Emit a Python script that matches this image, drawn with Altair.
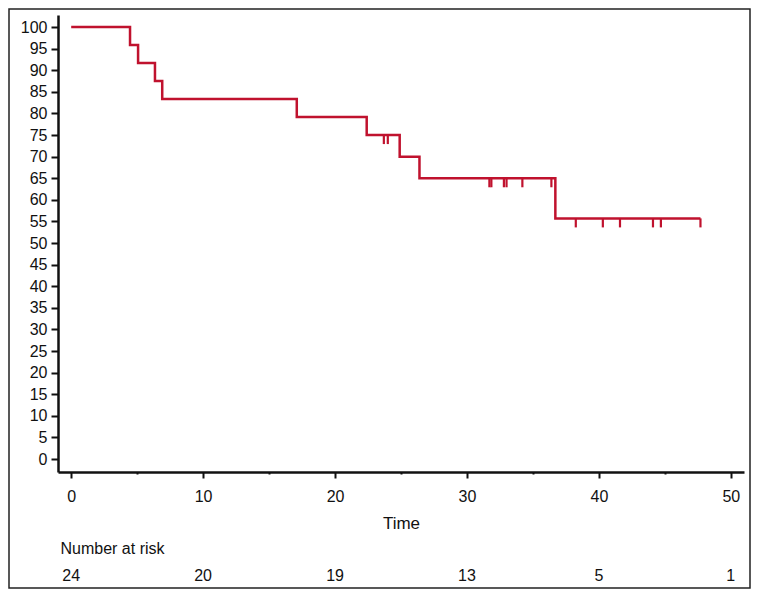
import altair as alt
import pandas as pd

# Kaplan-Meier step curve (time, survival %)
step_times = [0, 4.46, 5.07, 6.35, 6.9, 17.1, 22.4, 24.9, 26.4, 36.7, 47.7]
step_surv = [100, 95.83, 91.67, 87.5, 83.33, 79.17, 75.0, 70.0, 65.0, 55.71, 55.71]

# Censoring marks
censor_times = [23.7, 24.0, 31.7, 31.85, 32.8, 33.0, 34.2, 36.4,
                38.25, 40.3, 41.6, 44.1, 44.7, 47.7]
censor_surv = [75.0, 75.0, 65.0, 65.0, 65.0, 65.0, 65.0, 65.0,
               55.71, 55.71, 55.71, 55.71, 55.71, 55.71]

# Number at risk table
risk_times = [0, 10, 20, 30, 40, 50]
risk_counts = [24, 20, 19, 13, 5, 1]

x_ticks = list(range(0, 51, 5))
y_ticks = list(range(0, 101, 5))

RED = "#C0122E"
FONT = "Liberation Sans, Arial, sans-serif"
W, H = 686, 457
PAD = {"left": 50, "top": 7, "right": 7, "bottom": 117}

curve = pd.DataFrame({"t": step_times, "s": step_surv})
cens = pd.DataFrame({"t": censor_times, "s": censor_surv})
risk = pd.DataFrame({"t": risk_times, "n": [str(v) for v in risk_counts]})

xscale = alt.Scale(domain=[-1, 51], nice=False, zero=False)
yscale = alt.Scale(domain=[-3, 102.8], nice=False, zero=False)

xaxis = alt.Axis(
    values=x_ticks,
    labelExpr="datum.value % 10 === 0 ? datum.label : ''",
    tickSize={"condition": {"test": "datum.value % 10 === 0", "value": 6}, "value": 2},
    tickWidth=2, tickColor="#111", domainColor="#111", domainWidth=2.5,
    labelFont=FONT, labelFontSize=16, labelColor="#111", labelPadding=10,
    labelOverlap=False, grid=False, title="Time", titleFont=FONT, titleFontSize=17,
    titleFontWeight="normal", titleColor="#111", titlePadding=11,
)
yaxis = alt.Axis(
    values=y_ticks, tickSize=7, tickWidth=2, tickColor="#111",
    domainColor="#111", domainWidth=2.5, labelFont=FONT,
    labelFontSize=16, labelColor="#111", labelPadding=4,
    labelOverlap=False, labelFlush=False, labelBound=False, grid=False, title=None,
)

line = alt.Chart(curve).mark_line(interpolate="step-after", color=RED, strokeWidth=2.5).encode(
    x=alt.X("t:Q", scale=xscale, axis=xaxis),
    y=alt.Y("s:Q", scale=yscale, axis=yaxis),
)

ticks = alt.Chart(cens).mark_tick(
    orient="vertical", size=9, thickness=2.2, yOffset=4.5, color=RED, opacity=1
).encode(
    x=alt.X("t:Q", scale=xscale, axis=xaxis),
    y=alt.Y("s:Q", scale=yscale, axis=yaxis),
)

risk_label = alt.Chart(pd.DataFrame({"label": ["Number at risk"]})).mark_text(
    align="left", baseline="middle", font=FONT, fontSize=16, color="#111"
).encode(x=alt.value(2.5), y=alt.value(534), text="label:N")

risk_text = alt.Chart(risk).mark_text(
    align="center", baseline="middle", font=FONT, fontSize=16, color="#111"
).encode(x=alt.X("t:Q", scale=xscale, axis=xaxis), y=alt.value(561), text="n:N")

frame = alt.Chart(pd.DataFrame({"a": [0]})).mark_rect(
    filled=False, stroke="#222", strokeWidth=1.5
).encode(
    x=alt.value(-PAD["left"] + 1), x2=alt.value(W + PAD["right"] - 1),
    y=alt.value(-PAD["top"] + 1), y2=alt.value(H + PAD["bottom"] - 1),
)

chart = alt.layer(line, ticks, risk_label, risk_text, frame).properties(
    width=W, height=H,
    autosize=alt.AutoSizeParams(type="none"),
    padding=PAD,
).configure_view(stroke="transparent", strokeWidth=0)

chart.save("out.html", embed_options={"renderer": "svg", "actions": False})
